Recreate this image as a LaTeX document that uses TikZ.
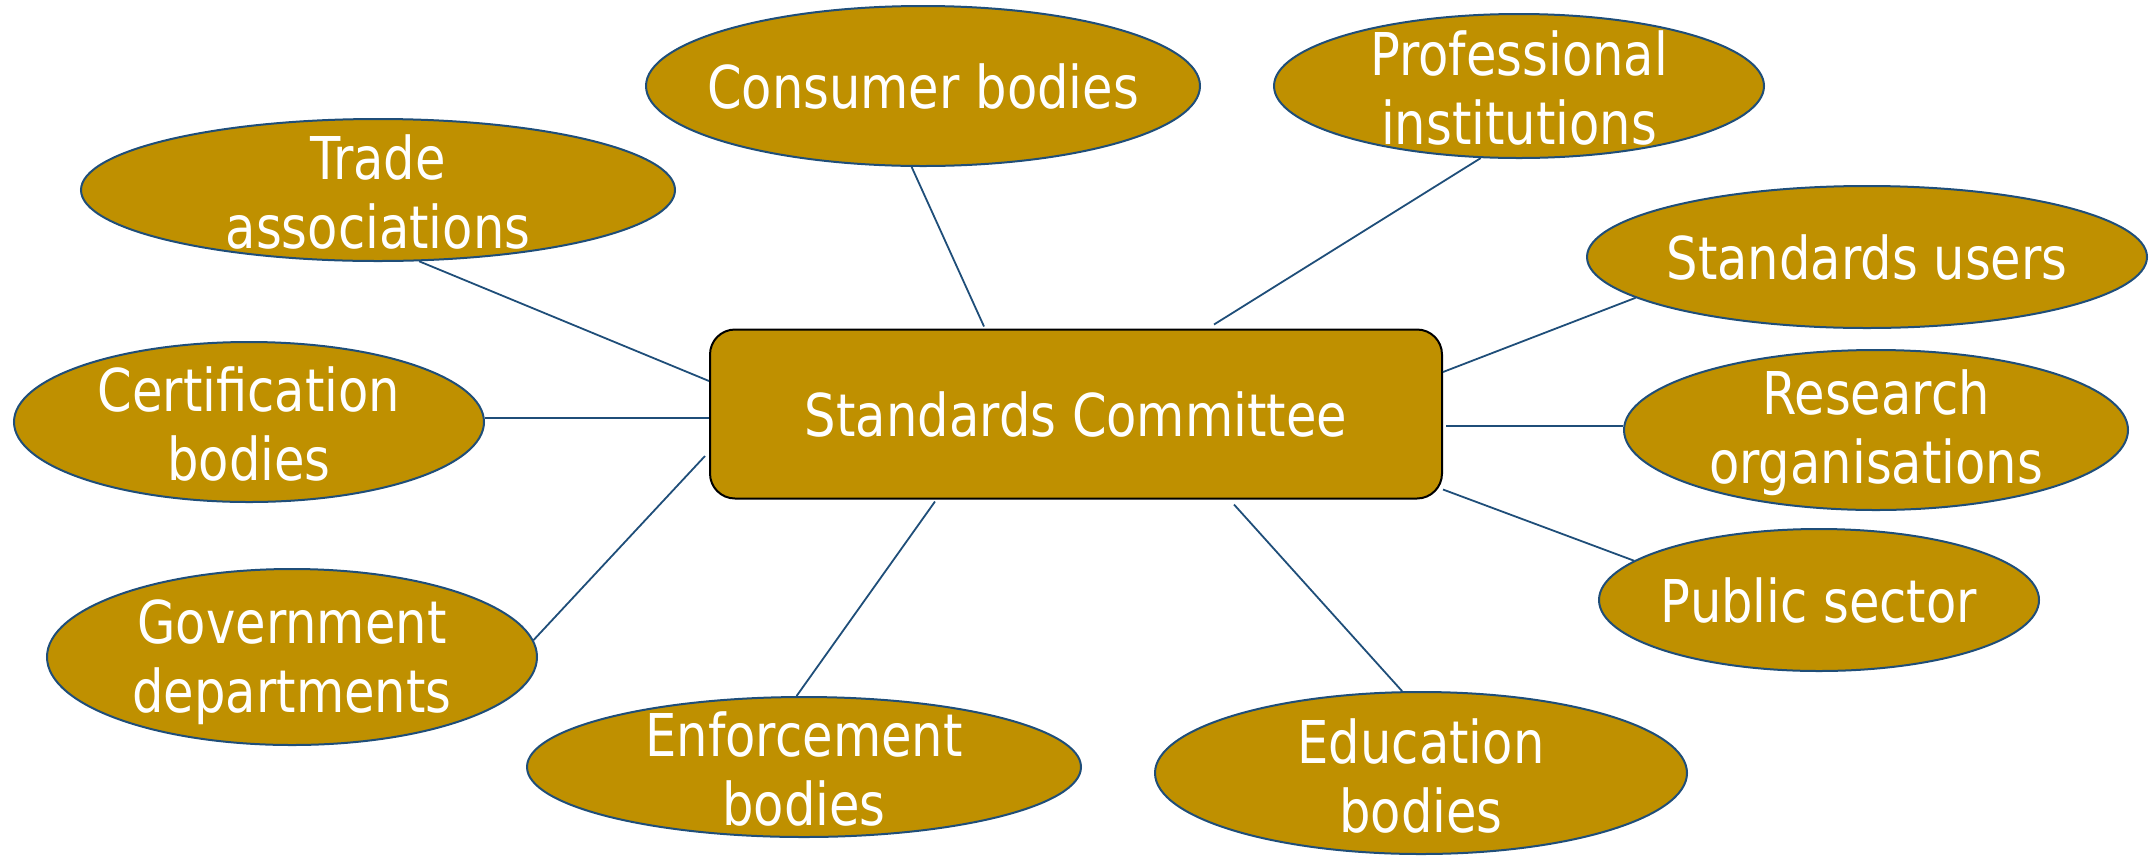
\documentclass[tikz,border=0pt]{standalone}
\usepackage{fontspec}
\usetikzlibrary{shapes.geometric,calc}
\newfontfamily\labfont{DejaVu Sans}[FakeStretch=0.84]
\definecolor{gold}{HTML}{BF9000}
\definecolor{navy}{HTML}{1F4E79}
\tikzset{
  bub/.style={ellipse, draw=navy, line width=2pt, fill=gold, inner sep=0pt},
  lbl/.style={text=white, align=center, inner sep=0pt, font=\labfont\fontsize{59}{69}\selectfont},
  centrebox/.style={draw=black, line width=2pt, fill=gold, rounded corners=25pt, inner sep=0pt},
  link/.style={draw=navy, line width=1.8pt}
}
\begin{document}
\begin{tikzpicture}[x=1pt,y=-1pt]
\useasboundingbox (0,0) rectangle (2154,855);
% centre
\node[centrebox, minimum width=732pt, minimum height=169pt] (box) at (1076,414) {};
\node[lbl] (box-t) at (box) {Standards Committee};
% ellipses
\node[bub, minimum width=554pt, minimum height=160pt] (cons) at (923,86) {};
\node[lbl] (cons-t) at (cons) {Consumer bodies};
\node[bub, minimum width=490pt, minimum height=144pt] (prof) at (1519,86) {};
\node[lbl] (prof-t) at ($(prof)+(0,2)$) {Professional\\institutions};
\node[bub, minimum width=594pt, minimum height=142pt] (trade) at (378,190) {};
\node[lbl] (trade-t) at ($(trade)+(0,2)$) {Trade\\associations};
\node[bub, minimum width=560pt, minimum height=142pt] (users) at (1867,257) {};
\node[lbl] (users-t) at (users) {Standards users};
\node[bub, minimum width=470pt, minimum height=160pt] (cert) at (249,422) {};
\node[lbl] (cert-t) at ($(cert)+(0,2)$) {Certification\\bodies};
\node[bub, minimum width=504pt, minimum height=160pt] (res) at (1876,430) {};
\node[lbl] (res-t) at ($(res)+(0,3)$) {Research\\organisations};
\node[bub, minimum width=440pt, minimum height=142pt] (pub) at (1819,600) {};
\node[lbl] (pub-t) at (pub) {Public sector};
\node[bub, minimum width=490pt, minimum height=176pt] (gov) at (292,657) {};
\node[lbl] (gov-t) at ($(gov)+(0,5)$) {Government\\departments};
\node[bub, minimum width=554pt, minimum height=140pt] (enf) at (804,767) {};
\node[lbl] (enf-t) at ($(enf)+(0,2)$) {Enforcement\\bodies};
\node[bub, minimum width=532pt, minimum height=162pt] (edu) at (1421,773) {};
\node[lbl] (edu-t) at ($(edu)+(0,3)$) {Education\\bodies};
% connectors
\draw[link] (cons.262) -- ($(box.north)+(-92,-2)$);
\draw[link] (prof.242) -- ($(box.north)+(138,-4)$);
\draw[link] (trade.300) -- ($(box.west)+(0,-33)$);
\draw[link] (users.190) -- ($(box.east)+(0,-42)$);
\draw[link] (cert.1) -- (cert.1 -| box.west);
\draw[link] ($(box.east |- res.179)+(3,0)$) -- (res.179);
\draw[link] (pub.168) -- ($(box.south east)+(0,-10)$);
\draw[link] (gov.4) -- ($(box.west)+(-4,42)$);
\draw[link] (enf.96) -- ($(box.south)+(-141,2)$);
\draw[link] (edu.103) -- ($(box.south)+(158,5)$);
\end{tikzpicture}
\end{document}
